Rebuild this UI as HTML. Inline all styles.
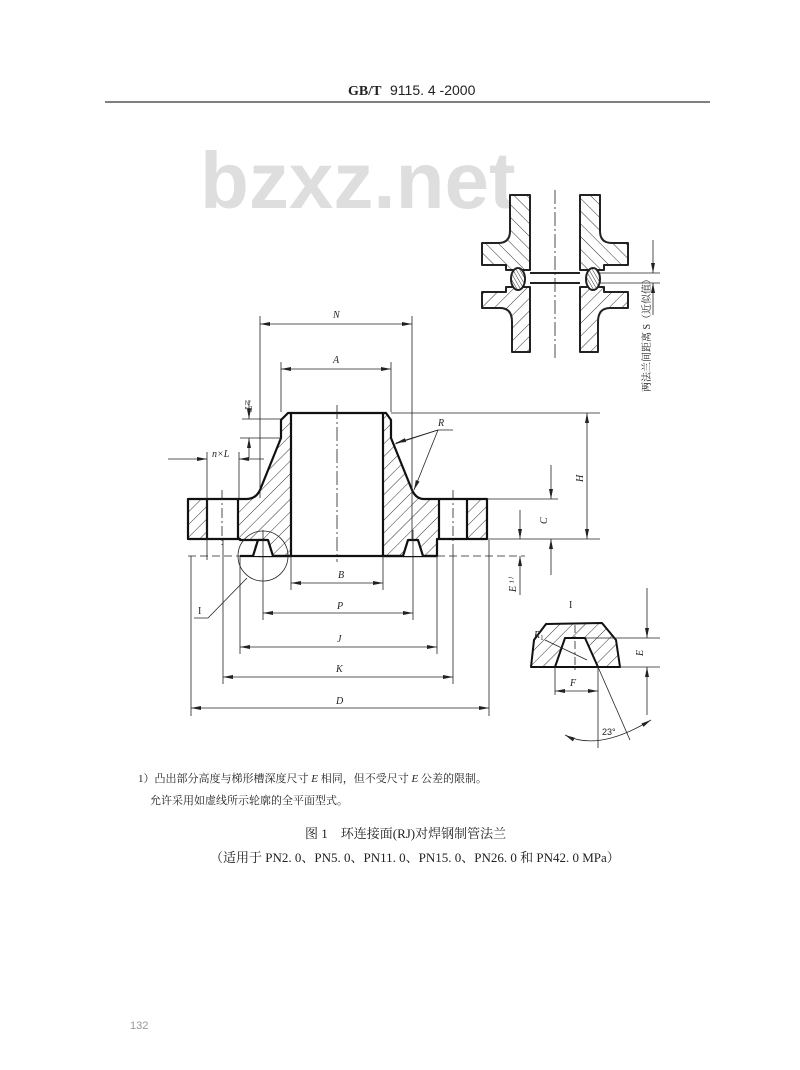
<!DOCTYPE html>
<html><head><meta charset="utf-8"><style>
html,body{margin:0;padding:0;background:#fff;}
svg{display:block;}
text{font-family:"Liberation Serif","Noto Serif CJK SC",serif;fill:#222;}
.it{font-style:italic;font-size:10px;}
</style></head><body>
<svg width="800" height="1070" viewBox="0 0 800 1070" xmlns="http://www.w3.org/2000/svg">
<defs>
<pattern id="h" patternUnits="userSpaceOnUse" width="9" height="9" patternTransform="rotate(45)">
<rect width="9" height="9" fill="#fff"/><line x1="0" y1="0" x2="0" y2="9" stroke="#333" stroke-width="1"/></pattern>
<pattern id="h2" patternUnits="userSpaceOnUse" width="9" height="9" patternTransform="rotate(-45)">
<rect width="9" height="9" fill="#fff"/><line x1="0" y1="0" x2="0" y2="9" stroke="#333" stroke-width="1"/></pattern>
<pattern id="h3" patternUnits="userSpaceOnUse" width="3" height="3" patternTransform="rotate(-30)">
<rect width="3" height="3" fill="#fff"/><line x1="0" y1="0" x2="0" y2="3" stroke="#333" stroke-width="1"/></pattern>
<marker id="a" markerWidth="10" markerHeight="6" refX="10" refY="3" orient="auto-start-reverse" markerUnits="userSpaceOnUse"><path d="M0,1 L10,3 L0,5z" fill="#222"/></marker>
</defs>

<!-- header -->
<text x="348" y="95" style="font-size:14px;font-weight:bold">GB/T</text>
<text x="390" y="95" style="font-family:'Liberation Sans',sans-serif;font-size:14px">9115. 4 -2000</text>
<line x1="105" y1="102" x2="710" y2="102" stroke="#333" stroke-width="1.2"/>

<!-- watermark -->
<text x="200" y="208" style="font-family:'Liberation Sans',sans-serif;font-weight:bold;font-size:80px;fill:#dedede">bzxz.net</text>

<!-- top right assembly -->
<g stroke="#222" stroke-width="2" stroke-linejoin="round">
<path d="M510,195 L530,195 L530,270 L506,270 L506,265 L482,265 L482,243 L498,243 Q510,243 510,231 Z" fill="url(#h2)"/>
<path d="M600,195 L580,195 L580,270 L604,270 L604,265 L628,265 L628,243 L612,243 Q600,243 600,231 Z" fill="url(#h2)"/>
<path d="M506,287 L530,287 L530,352 L512,352 L512,322 Q512,308 500,308 L482,308 L482,292 L506,292 Z" fill="url(#h)"/>
<path d="M604,287 L580,287 L580,352 L598,352 L598,322 Q598,308 610,308 L628,308 L628,292 L604,292 Z" fill="url(#h)"/>
<line x1="530" y1="273" x2="580" y2="273"/><line x1="530" y1="283" x2="580" y2="283"/>
<ellipse cx="518" cy="279" rx="7" ry="11" fill="url(#h3)"/>
<ellipse cx="593" cy="279" rx="7" ry="11" fill="url(#h3)"/>
</g>
<line x1="555" y1="190" x2="555" y2="360" stroke="#222" stroke-width="0.8" stroke-dasharray="14,3,2,3"/>
<g stroke="#222" stroke-width="0.8" fill="none">
<line x1="600" y1="273" x2="660" y2="273"/><line x1="600" y1="283" x2="660" y2="283"/>
<line x1="653" y1="240" x2="653" y2="273" marker-end="url(#a)"/>
<line x1="653" y1="315" x2="653" y2="283" marker-end="url(#a)"/>
</g>
<text transform="translate(650,392) rotate(-90)" style="font-size:10px">两法兰间距离 S（近似值）</text>

<!-- main flange -->
<g stroke="#111" stroke-width="2.2" stroke-linejoin="round">
<path d="M288,413 L291,413 L291,556 L258,556 Q251,543 265,540 L258,540 L240,540 L240,539 L238,539 L238,499 L246,499 Q256,499 260,490 L281,438 L281,420 Z" fill="url(#h)"/>
<path d="M386,413 L383,413 L383,556 L416,556 L437,556 L437,539 L439,539 L439,499 L424,499 Q416,499 412,490 L391,438 L391,420 Z" fill="url(#h)"/>
<rect x="188" y="499" width="19" height="40" fill="url(#h)"/>
<rect x="467" y="499" width="20" height="40" fill="url(#h)"/>
<line x1="207" y1="499" x2="238" y2="499"/><line x1="207" y1="539" x2="238" y2="539"/>
<line x1="439" y1="499" x2="467" y2="499"/><line x1="439" y1="539" x2="467" y2="539"/>
<line x1="291" y1="413" x2="383" y2="413"/>
<line x1="240" y1="556" x2="437" y2="556"/>
<path d="M253,556 L258,540 L268,540 L273,556" fill="#fff"/>
<path d="M403,556 L408,540 L418,540 L423,556" fill="#fff"/>
</g>
<g stroke="#222" stroke-width="0.8" fill="none">
<line x1="337" y1="405" x2="337" y2="562" stroke-dasharray="14,3,2,3"/>
<line x1="222" y1="490" x2="222" y2="545" stroke-dasharray="10,3,2,3"/>
<line x1="453" y1="490" x2="453" y2="545" stroke-dasharray="10,3,2,3"/>
<line x1="188" y1="556" x2="240" y2="556" stroke-dasharray="8,4"/>
<line x1="437" y1="556" x2="525" y2="556" stroke-dasharray="8,4"/>
<circle cx="263" cy="556" r="25"/>
<line x1="260" y1="316" x2="260" y2="498"/><line x1="412" y1="316" x2="412" y2="540"/>
<line x1="260" y1="324" x2="412" y2="324" marker-start="url(#a)" marker-end="url(#a)"/>
<line x1="281" y1="362" x2="281" y2="412"/><line x1="391" y1="362" x2="391" y2="412"/>
<line x1="281" y1="369" x2="391" y2="369" marker-start="url(#a)" marker-end="url(#a)"/>
<line x1="242" y1="419" x2="281" y2="419"/><line x1="240" y1="438" x2="281" y2="438"/>
<line x1="249" y1="400" x2="249" y2="419" marker-end="url(#a)"/>
<line x1="249" y1="458" x2="249" y2="438" marker-end="url(#a)"/>
<line x1="207" y1="452" x2="207" y2="560"/><line x1="239" y1="452" x2="239" y2="498"/>
<line x1="168" y1="459" x2="207" y2="459" marker-end="url(#a)"/>
<line x1="264" y1="459" x2="239" y2="459" marker-end="url(#a)"/>
<polyline points="395,444 438,430 453,430"/>
<line x1="438" y1="430" x2="414" y2="490" marker-end="url(#a)"/>
<line x1="438" y1="430" x2="396" y2="443" marker-end="url(#a)"/>
<line x1="391" y1="413" x2="600" y2="413"/>
<line x1="487" y1="539" x2="600" y2="539"/>
<line x1="587" y1="413" x2="587" y2="539" marker-start="url(#a)" marker-end="url(#a)"/>
<line x1="487" y1="499" x2="558" y2="499"/>
<line x1="551" y1="465" x2="551" y2="499" marker-end="url(#a)"/>
<line x1="551" y1="575" x2="551" y2="539" marker-end="url(#a)"/>
<line x1="520" y1="510" x2="520" y2="539" marker-end="url(#a)"/>
<line x1="520" y1="595" x2="520" y2="556" marker-end="url(#a)"/>
<line x1="191" y1="556" x2="191" y2="716"/><line x1="489" y1="540" x2="489" y2="716"/>
<line x1="223" y1="540" x2="223" y2="684"/><line x1="453" y1="545" x2="453" y2="684"/>
<line x1="240" y1="556" x2="240" y2="654"/><line x1="437" y1="556" x2="437" y2="654"/>
<line x1="263" y1="530" x2="263" y2="620"/><line x1="413" y1="530" x2="413" y2="620"/>
<line x1="291" y1="556" x2="291" y2="590"/><line x1="383" y1="556" x2="383" y2="590"/>
<line x1="291" y1="583" x2="383" y2="583" marker-start="url(#a)" marker-end="url(#a)"/>
<line x1="263" y1="613" x2="413" y2="613" marker-start="url(#a)" marker-end="url(#a)"/>
<line x1="240" y1="647" x2="437" y2="647" marker-start="url(#a)" marker-end="url(#a)"/>
<line x1="223" y1="677" x2="453" y2="677" marker-start="url(#a)" marker-end="url(#a)"/>
<line x1="191" y1="708" x2="489" y2="708" marker-start="url(#a)" marker-end="url(#a)"/>
<polyline points="247,578 208,618 194,618"/>
</g>
<text class="it" x="333" y="318">N</text>
<text class="it" x="333" y="363">A</text>
<text class="it" x="338" y="578">B</text>
<text class="it" x="337" y="609">P</text>
<text class="it" x="337" y="642">J</text>
<text class="it" x="336" y="672">K</text>
<text class="it" x="336" y="704">D</text>
<text class="it" x="438" y="426">R</text>
<text class="it" x="212" y="457">n×L</text>
<text class="it" transform="translate(245,400) rotate(90)">≥T</text>
<text class="it" transform="translate(583,482) rotate(-90)">H</text>
<text class="it" transform="translate(547,524) rotate(-90)">C</text>
<text class="it" transform="translate(516,592) rotate(-90)">E ¹⁾</text>
<text x="198" y="614" style="font-size:10px">I</text>

<!-- detail I -->
<g stroke="#111" stroke-width="2" stroke-linejoin="round">
<path d="M531,667 L534,640 L546,624 L602,623 L616,640 L620,667 L598,667 L585,638 L565,638 L555,667 Z" fill="url(#h)"/>
<line x1="531" y1="667" x2="620" y2="667"/>
<line x1="565" y1="638" x2="585" y2="638"/>
</g>
<g stroke="#222" stroke-width="0.8" fill="none">
<line x1="575" y1="625" x2="575" y2="672" stroke-dasharray="8,3,2,3"/>
<line x1="585" y1="638" x2="660" y2="638"/><line x1="620" y1="667" x2="660" y2="667"/>
<line x1="647" y1="588" x2="647" y2="638" marker-end="url(#a)"/>
<line x1="647" y1="715" x2="647" y2="667" marker-end="url(#a)"/>
<line x1="555" y1="667" x2="555" y2="695"/><line x1="598" y1="667" x2="598" y2="748"/>
<line x1="555" y1="691" x2="598" y2="691" marker-start="url(#a)" marker-end="url(#a)"/>
<line x1="598" y1="667" x2="630" y2="740"/>
<path d="M565,735 Q598,752 651,720" marker-start="url(#a)" marker-end="url(#a)"/>
<line x1="545" y1="640" x2="587" y2="660"/>
</g>
<text class="it" x="534" y="638">R<tspan font-size="7" dy="2" font-style="normal">1</tspan></text>
<text x="569" y="608" style="font-size:10px">I</text>
<text class="it" transform="translate(643,656) rotate(-90)">E</text>
<text class="it" x="570" y="686">F</text>
<text x="602" y="735" style="font-family:'Liberation Sans',sans-serif;font-size:9px">23°</text>

<!-- notes -->
<text x="138" y="782" style="font-size:11px">1）凸出部分高度与梯形槽深度尺寸 <tspan font-style="italic">E</tspan> 相同，但不受尺寸 <tspan font-style="italic">E</tspan> 公差的限制。</text>
<text x="150" y="804" style="font-size:11px">允许采用如虚线所示轮廓的全平面型式。</text>
<text x="305" y="838" style="font-size:13px">图 1　环连接面(RJ)对焊钢制管法兰</text>
<text x="210" y="862" style="font-size:13px">（适用于 PN2. 0、PN5. 0、PN11. 0、PN15. 0、PN26. 0 和 PN42. 0 MPa）</text>
<text x="130" y="1029" style="font-family:'Liberation Sans',sans-serif;font-size:11px;fill:#999">132</text>
</svg>
</body></html>
